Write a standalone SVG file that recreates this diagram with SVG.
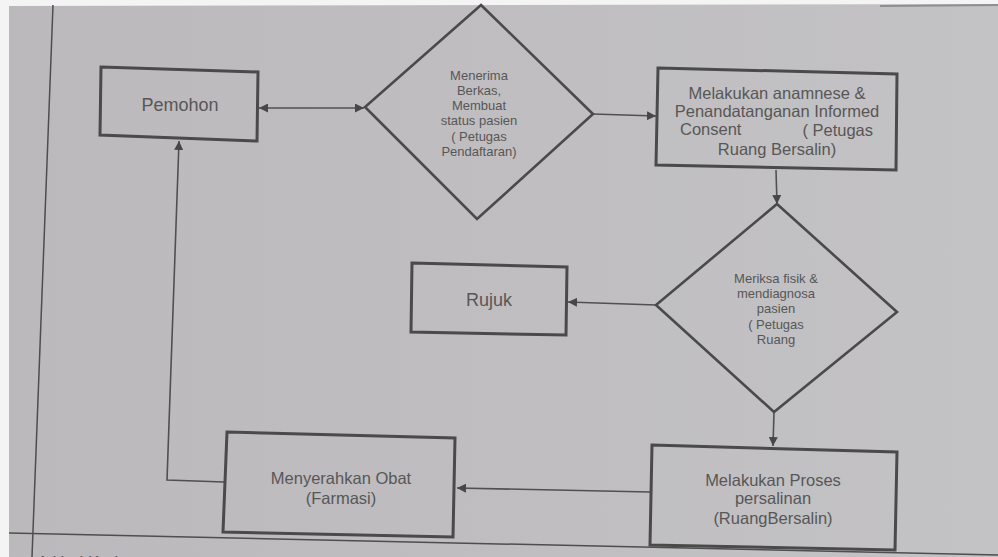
<svg xmlns="http://www.w3.org/2000/svg" width="998" height="557" viewBox="0 0 998 557">
<defs>
<linearGradient id="paper" x1="0" y1="0" x2="1" y2="0">
<stop offset="0" stop-color="#bcb9bc"/>
<stop offset="1" stop-color="#c3c2c4"/>
</linearGradient>
<marker id="ah" viewBox="0 0 10 10" refX="10" refY="5" markerWidth="9" markerHeight="9" markerUnits="userSpaceOnUse" orient="auto-start-reverse">
<path d="M0,0 L10,5 L0,10 z" fill="#474747"/>
</marker>
<style>
.box{fill:none;stroke:#4a4a4a;stroke-width:3;stroke-linejoin:miter}
.dia{fill:none;stroke:#4a4a4a;stroke-width:2.6;stroke-linejoin:miter}
.con{fill:none;stroke:#505050;stroke-width:1.6}
.page{fill:none;stroke:#4e4e4e;stroke-width:1.5}
.t{font-family:"Liberation Sans",Arial,sans-serif;fill:#575757;text-anchor:middle}
.tb{font-size:16.5px}
.tl{font-size:18px}
.td{font-size:13px}
</style>
</defs>
<rect x="0" y="0" width="998" height="557" fill="#f4f4f4"/>
<polygon points="9,6 998,4 998,557 9,557" fill="url(#paper)"/>
<line x1="880" y1="6" x2="998" y2="5" stroke="#8e8d90" stroke-width="2"/>
<g id="page-lines">
<line class="page" x1="53" y1="5" x2="32" y2="557"/>
<line class="page" x1="9" y1="533" x2="998" y2="555"/>
<text class="t" x="38" y="568" style="font-size:17px;text-anchor:start">1 Hari Kerja</text>
</g>
<g id="connectors">
<line class="con" x1="259" y1="108" x2="364" y2="108" marker-start="url(#ah)" marker-end="url(#ah)"/>
<line class="con" x1="593" y1="114" x2="656" y2="116" marker-end="url(#ah)"/>
<line class="con" x1="776" y1="170" x2="777" y2="204" marker-end="url(#ah)"/>
<line class="con" x1="656" y1="305" x2="568" y2="302" marker-end="url(#ah)"/>
<line class="con" x1="774" y1="412" x2="773" y2="446" marker-end="url(#ah)"/>
<line class="con" x1="650" y1="492" x2="457" y2="488" marker-end="url(#ah)"/>
<polyline class="con" points="224,482 167,480 179,141" marker-end="url(#ah)"/>
</g>
<g id="pemohon">
<polygon class="box" points="101,67 258,72 257,141 100,135"/>
<text class="t tl" x="180" y="111">Pemohon</text>
</g>
<g id="menerima-berkas">
<polygon class="dia" points="481,5 593,114 477,219 365,107"/>
<text class="t td" x="479"><tspan x="479" y="80">Menerima</tspan><tspan x="479" y="95">Berkas,</tspan><tspan x="479" y="110">Membuat</tspan><tspan x="479" y="125">status pasien</tspan><tspan x="479" y="141">( Petugas</tspan><tspan x="479" y="156">Pendaftaran)</tspan></text>
</g>
<g id="anamnese">
<polygon class="box" points="658,68 897,74 896,170 656,165"/>
<text class="t tb"><tspan x="777" y="99">Melakukan anamnese &amp;</tspan><tspan x="777" y="117">Penandatanganan Informed</tspan><tspan x="680" y="135" style="text-anchor:start">Consent</tspan><tspan x="873" y="136" style="text-anchor:end">( Petugas</tspan><tspan x="777" y="155">Ruang Bersalin)</tspan></text>
</g>
<g id="periksa-fisik">
<polygon class="dia" points="777,204 897,312 774,412 656,305"/>
<text class="t td"><tspan x="776" y="283">Meriksa fisik &amp;</tspan><tspan x="776" y="298">mendiagnosa</tspan><tspan x="776" y="313">pasien</tspan><tspan x="776" y="329">( Petugas</tspan><tspan x="776" y="344">Ruang</tspan></text>
</g>
<g id="rujuk">
<polygon class="box" points="412,263 567,267 566,335 411,332"/>
<text class="t tl" x="489" y="306">Rujuk</text>
</g>
<g id="proses-persalinan">
<polygon class="box" points="652,445 897,452 895,550 650,545"/>
<text class="t tb"><tspan x="773" y="486">Melakukan Proses</tspan><tspan x="773" y="504">persalinan</tspan><tspan x="773" y="524">(RuangBersalin)</tspan></text>
</g>
<g id="menyerahkan-obat">
<polygon class="box" points="227,432 455,438 453,537 223,532"/>
<text class="t tb"><tspan x="341" y="484">Menyerahkan Obat</tspan><tspan x="341" y="504">(Farmasi)</tspan></text>
</g>
</svg>
